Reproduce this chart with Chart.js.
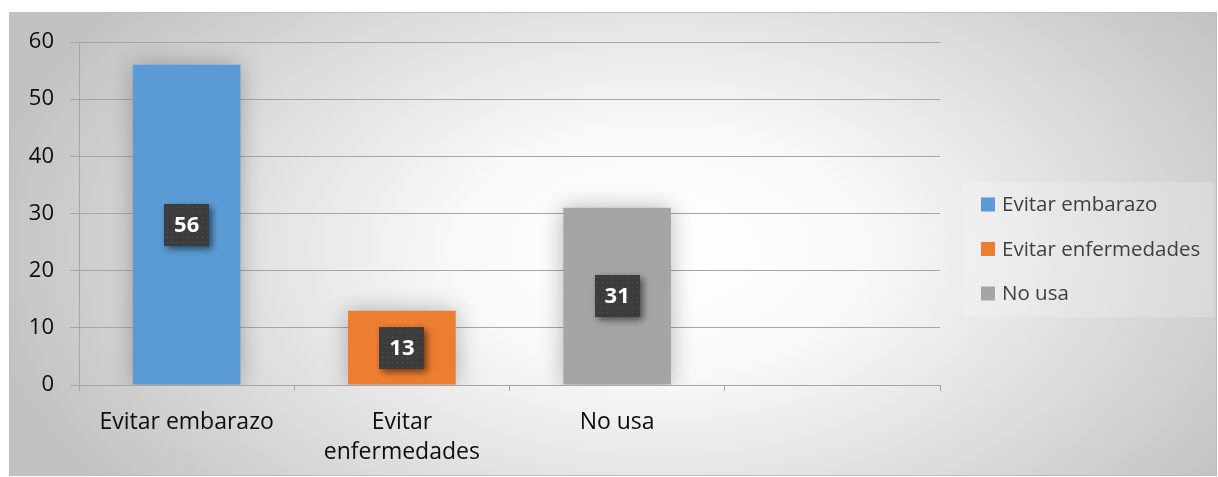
<!DOCTYPE html>
<html>
<head>
<meta charset="utf-8">
<script src="https://cdn.jsdelivr.net/npm/chart.js@4.4.0/dist/chart.umd.min.js"></script>
<style>
  html, body { margin: 0; padding: 0; background: #ffffff; }
  #wrap { width: 1218px; height: 477px; }
</style>
</head>
<body>
<div id="wrap"><canvas id="chart" width="1218" height="477"></canvas></div>
<script>
// chart data
const categories = ['Evitar embarazo', ['Evitar', 'enfermedades'], 'No usa', ''];
const legendNames = ['Evitar embarazo', 'Evitar enfermedades', 'No usa'];
const values = [56, 13, 31, null];
const barColors = ['#5b9bd5', '#ed7d31', '#a5a5a5'];
const yTicks = [0, 10, 20, 30, 40, 50, 60];

const FONT = "'Open Sans', 'Noto Sans', sans-serif";

// background box with soft radial gradient
const backgroundPlugin = {
  id: 'background',
  beforeDraw(chart) {
    const ctx = chart.ctx;
    ctx.save();
    ctx.fillStyle = '#ffffff';
    ctx.fillRect(0, 0, chart.width, chart.height);
    const x0 = 9, y0 = 12, w = 1208, h = 464;
    ctx.beginPath();
    ctx.rect(x0, y0, w, h);
    ctx.clip();
    ctx.translate(660, 250);
    ctx.scale(1, 0.6);
    const g = ctx.createRadialGradient(0, 0, 0, 0, 0, 680);
    g.addColorStop(0, '#ffffff');
    g.addColorStop(0.3, '#f9f9f9');
    g.addColorStop(1, '#c2c2c2');
    ctx.fillStyle = g;
    ctx.fillRect(-700, -700, 1400, 1400);
    ctx.restore();
    ctx.save();
    ctx.strokeStyle = '#bdbdbd';
    ctx.lineWidth = 1;
    ctx.strokeRect(x0 + 0.5, y0 + 0.5, w - 1, h - 1);
    ctx.restore();
  }
};

// soft shadow behind bars
const barShadowPlugin = {
  id: 'barShadow',
  beforeDatasetsDraw(chart) {
    const ctx = chart.ctx;
    ctx.save();
    ctx.shadowColor = 'rgba(0,0,0,0.28)';
    ctx.shadowBlur = 22;
  },
  afterDatasetsDraw(chart) {
    chart.ctx.restore();
  }
};

// dark dotted value boxes
function makePattern(ctx) {
  const c = document.createElement('canvas');
  c.width = 5; c.height = 5;
  const p = c.getContext('2d');
  p.fillStyle = '#3c3c3c';
  p.fillRect(0, 0, 5, 5);
  p.fillStyle = '#545454';
  p.fillRect(2, 2, 1, 1);
  return ctx.createPattern(c, 'repeat');
}

const valueBoxPlugin = {
  id: 'valueBox',
  afterDatasetsDraw(chart) {
    const ctx = chart.ctx;
    const meta = chart.getDatasetMeta(0);
    const pattern = makePattern(ctx);
    meta.data.forEach((bar, i) => {
      const v = values[i];
      if (v === null) return;
      const cx = bar.x;
      const cy = (bar.y + bar.base) / 2;
      const bw = 45, bh = 42;
      ctx.save();
      ctx.shadowColor = 'rgba(0,0,0,0.55)';
      ctx.shadowBlur = 7;
      ctx.shadowOffsetX = 3;
      ctx.shadowOffsetY = 3;
      ctx.fillStyle = pattern;
      ctx.fillRect(Math.round(cx - bw / 2), Math.round(cy - bh / 2), bw, bh);
      ctx.restore();
      ctx.save();
      ctx.fillStyle = '#ffffff';
      ctx.font = "bold 22px " + FONT;
      ctx.textAlign = 'center';
      ctx.textBaseline = 'middle';
      ctx.fillText(String(v), cx, cy + 1);
      ctx.restore();
    });
  }
};

// legend on the right
const legendPlugin = {
  id: 'sideLegend',
  afterDraw(chart) {
    const ctx = chart.ctx;
    ctx.save();
    ctx.fillStyle = 'rgba(255,255,255,0.2)';
    ctx.fillRect(963, 182, 251, 135);
    ctx.font = "20.5px " + FONT;
    ctx.textBaseline = 'middle';
    legendNames.forEach((name, i) => {
      const y = 204.5 + i * 44.5;
      ctx.fillStyle = barColors[i];
      ctx.fillRect(981, y - 7, 14, 14);
      ctx.fillStyle = '#404040';
      ctx.fillText(name, 1002, y + 1);
    });
    ctx.restore();
  }
};

new Chart(document.getElementById('chart').getContext('2d'), {
  type: 'bar',
  data: {
    labels: categories,
    datasets: [{
      data: values,
      backgroundColor: barColors,
      borderWidth: 0,
      categoryPercentage: 1,
      barPercentage: 0.5
    }]
  },
  options: {
    responsive: false,
    animation: false,
    layout: { padding: { left: 9, right: 278, top: 42, bottom: 0 } },
    plugins: {
      legend: { display: false },
      tooltip: { enabled: false }
    },
    scales: {
      x: {
        afterFit(scale) { scale.height = 477 - 385; },
        grid: {
          offset: true,
          drawOnChartArea: false,
          drawTicks: true,
          tickLength: 6,
          color: '#a6a6a6'
        },
        border: { color: '#a6a6a6' },
        ticks: {
          color: '#0d0d0d',
          font: { family: FONT, size: 23, lineHeight: 1.33 },
          padding: 16,
          maxRotation: 0
        }
      },
      y: {
        min: 0,
        max: 60,
        afterFit(scale) { scale.width = 70; },
        afterBuildTicks(scale) { scale.ticks = yTicks.map(v => ({ value: v })); },
        grid: {
          color: '#a6a6a6',
          tickLength: 9
        },
        border: { color: '#a6a6a6' },
        ticks: {
          color: '#0d0d0d',
          font: { family: FONT, size: 22 },
          padding: 16
        }
      }
    }
  },
  plugins: [backgroundPlugin, barShadowPlugin, valueBoxPlugin, legendPlugin]
});
</script>
</body>
</html>
